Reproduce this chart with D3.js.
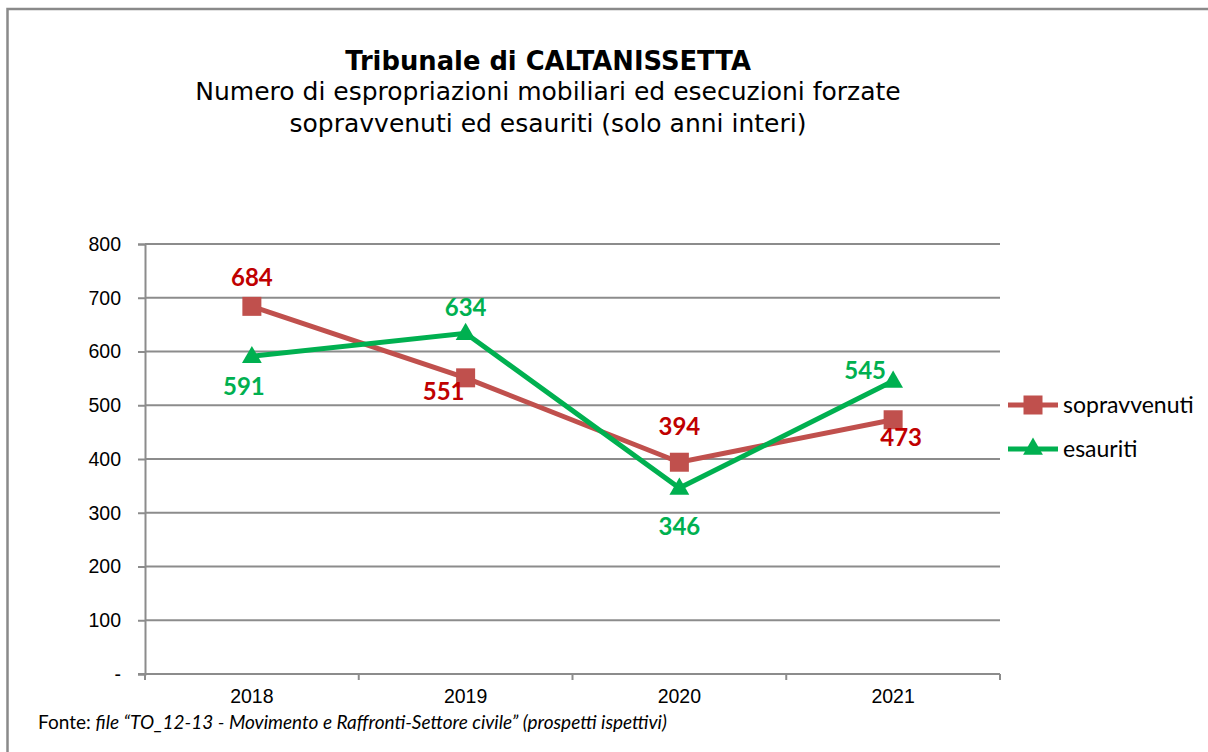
<!DOCTYPE html>
<html>
<head>
<meta charset="utf-8">
<script src="https://cdn.jsdelivr.net/npm/d3@7"></script>
<style>
  body { margin: 0; background: #fff; }
  svg { display: block; }
</style>
</head>
<body>
<svg width="1208" height="752"></svg>
<script>
const years = ["2018", "2019", "2020", "2021"];
const sopravvenuti = [684, 551, 394, 473];
const esauriti = [591, 634, 346, 545];
const yTicks = [0, 100, 200, 300, 400, 500, 600, 700, 800];
const seriesNames = ["sopravvenuti", "esauriti"];

const svg = d3.select("svg");
const margin = { top: 244, left: 145, right: 208, bottom: 78 };
const width = 1208 - margin.left - margin.right;
const height = 752 - margin.top - margin.bottom;

// outer frame (runs off the right and bottom of the picture)
svg.append("rect")
  .attr("x", 7.5).attr("y", 9)
  .attr("width", 1230).attr("height", 780)
  .attr("fill", "#fff")
  .attr("stroke", "#8a8a8a")
  .attr("stroke-width", 2.5);

// titles
const titles = svg.append("g").attr("font-family", "DejaVu Sans, Verdana, sans-serif")
  .attr("text-anchor", "middle").attr("fill", "#000");
titles.append("text").attr("x", 548).attr("y", 70)
  .attr("font-size", 25.8).attr("font-weight", "bold")
  .text("Tribunale di CALTANISSETTA");
titles.append("text").attr("x", 548).attr("y", 100)
  .attr("font-size", 25)
  .text("Numero di espropriazioni mobiliari ed esecuzioni forzate");
titles.append("text").attr("x", 548).attr("y", 132)
  .attr("font-size", 25)
  .text("sopravvenuti ed esauriti (solo anni interi)");

const chart = svg.append("g").attr("transform", `translate(${margin.left},${margin.top})`);

const x = d3.scaleBand().domain(years).range([0, width]);
const y = d3.scaleLinear().domain([0, 800]).range([height, 0]);
const cx = d => x(d) + x.bandwidth() / 2;

// gridlines
chart.append("g")
  .selectAll("line")
  .data(yTicks.filter(t => t > 0))
  .join("line")
  .attr("x1", 0).attr("x2", width)
  .attr("y1", d => y(d)).attr("y2", d => y(d))
  .attr("stroke", "#8c8c8c").attr("stroke-width", 2);

// Y axis
const yAxis = chart.append("g")
  .call(d3.axisLeft(y).tickValues(yTicks).tickSize(7).tickPadding(17)
    .tickFormat(d => d === 0 ? "-" : d));
yAxis.select(".domain").attr("stroke", "#8c8c8c").attr("stroke-width", 2);
yAxis.selectAll(".tick line").attr("stroke", "#8c8c8c").attr("stroke-width", 2);
yAxis.selectAll("text")
  .attr("font-family", "Liberation Sans, Arial, sans-serif")
  .attr("font-size", 19.5).attr("fill", "#000");

// X axis with ticks at category boundaries
const xAxis = chart.append("g").attr("transform", `translate(0,${height})`);
xAxis.append("line").attr("x1", -7).attr("x2", width)
  .attr("stroke", "#8c8c8c").attr("stroke-width", 2);
xAxis.selectAll("line.tk")
  .data(years.concat(["end"]))
  .join("line").attr("class", "tk")
  .attr("x1", (d, i) => i * x.step()).attr("x2", (d, i) => i * x.step())
  .attr("y1", 0).attr("y2", 6)
  .attr("stroke", "#8c8c8c").attr("stroke-width", 2);
xAxis.selectAll("text")
  .data(years)
  .join("text")
  .attr("x", d => cx(d)).attr("y", 29)
  .attr("text-anchor", "middle")
  .attr("font-family", "Liberation Sans, Arial, sans-serif")
  .attr("font-size", 19.5).attr("fill", "#000")
  .text(d => d);

const line = d3.line().x(d => cx(d.year)).y(d => y(d.value));
const sopData = years.map((yr, i) => ({ year: yr, value: sopravvenuti[i] }));
const esaData = years.map((yr, i) => ({ year: yr, value: esauriti[i] }));

const redLine = "#C0504D", greenLine = "#00B050";
const redLabel = "#C00000", greenLabel = "#00B050";

chart.append("path").datum(sopData)
  .attr("d", line).attr("fill", "none")
  .attr("stroke", redLine).attr("stroke-width", 5);
chart.append("path").datum(esaData)
  .attr("d", line).attr("fill", "none")
  .attr("stroke", greenLine).attr("stroke-width", 5);

const sq = 19;
chart.selectAll("rect.sop").data(sopData).join("rect").attr("class", "sop")
  .attr("x", d => cx(d.year) - sq / 2).attr("y", d => y(d.value) - sq / 2)
  .attr("width", sq).attr("height", sq).attr("fill", redLine);

const tri = d3.symbol().type(d3.symbolTriangle).size(170);
chart.selectAll("path.esa").data(esaData).join("path").attr("class", "esa")
  .attr("transform", d => `translate(${cx(d.year)},${y(d.value) + 1})`)
  .attr("d", tri).attr("fill", greenLine);

// data labels: offsets follow the original placement
const sopOff = [[0, -29], [-22, 14], [0, -36], [8, 18]];
const esaOff = [[-8, 30], [0, -26], [0, 39], [-28, -10]];
const labelFont = "Lato, Carlito, Calibri, sans-serif";
chart.selectAll("text.sopl").data(sopData).join("text").attr("class", "sopl")
  .attr("x", (d, i) => cx(d.year) + sopOff[i][0])
  .attr("y", (d, i) => y(d.value) + sopOff[i][1])
  .attr("dy", "0.35em").attr("text-anchor", "middle")
  .attr("font-family", labelFont).attr("font-weight", "bold").attr("font-size", 24)
  .attr("fill", redLabel).text(d => d.value);
chart.selectAll("text.esal").data(esaData).join("text").attr("class", "esal")
  .attr("x", (d, i) => cx(d.year) + esaOff[i][0])
  .attr("y", (d, i) => y(d.value) + esaOff[i][1])
  .attr("dy", "0.35em").attr("text-anchor", "middle")
  .attr("font-family", labelFont).attr("font-weight", "bold").attr("font-size", 24)
  .attr("fill", greenLabel).text(d => d.value);

// legend
const legend = svg.append("g").attr("transform", "translate(1008,405)");
seriesNames.forEach((name, i) => {
  const row = legend.append("g").attr("transform", `translate(0,${i * 44})`);
  const col = i === 0 ? redLine : greenLine;
  row.append("line").attr("x1", 0).attr("x2", 50)
    .attr("stroke", col).attr("stroke-width", 5);
  if (i === 0) {
    row.append("rect").attr("x", 25 - sq / 2).attr("y", -sq / 2)
      .attr("width", sq).attr("height", sq).attr("fill", col);
  } else {
    row.append("path").attr("transform", "translate(25,0)").attr("d", tri).attr("fill", col);
  }
  row.append("text").attr("x", 55).attr("y", 0).attr("dy", "0.35em")
    .attr("font-family", labelFont).attr("font-size", 23).attr("fill", "#000")
    .text(name);
});

// source note
const note = svg.append("text").attr("x", 38).attr("y", 729)
  .attr("font-family", labelFont).attr("font-size", 19).attr("fill", "#000");
note.append("tspan").text("Fonte: ");
note.append("tspan").attr("font-style", "italic")
  .text("file \u201CTO_12-13 - Movimento e Raffronti-Settore civile\u201D (prospetti ispettivi)");
</script>
</body>
</html>
